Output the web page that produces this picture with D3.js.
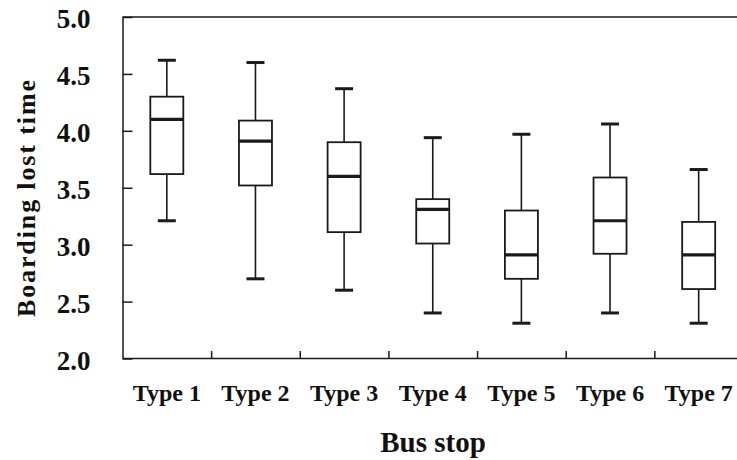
<!DOCTYPE html>
<html>
<head>
<meta charset="utf-8">
<script src="https://cdn.jsdelivr.net/npm/d3@7"></script>
<style>
  body { margin: 0; background: #fff; }
  svg { display: block; }
  svg text { font-family: "Liberation Serif", "Times New Roman", serif; font-weight: bold; }
</style>
</head>
<body>
<div id="chart"></div>
<script>
const types = ["Type 1", "Type 2", "Type 3", "Type 4", "Type 5", "Type 6", "Type 7"];
const whiskerLow = [3.21, 2.70, 2.60, 2.40, 2.31, 2.40, 2.31];
const quartile1 = [3.62, 3.52, 3.11, 3.01, 2.70, 2.92, 2.61];
const medians = [4.10, 3.91, 3.60, 3.31, 2.91, 3.21, 2.91];
const quartile3 = [4.30, 4.09, 3.90, 3.40, 3.30, 3.59, 3.20];
const whiskerHigh = [4.62, 4.60, 4.37, 3.94, 3.97, 4.06, 3.66];
const yTicks = [2.0, 2.5, 3.0, 3.5, 4.0, 4.5, 5.0];

const config = {
    width: 737,
    height: 460,
    margin: { top: 17, right: -6, bottom: 102, left: 122.5 },
    boxWidth: 33,
    capWidth: 18,
    ink: "#1a1a1a",
};

const rows = types.map((t, i) => ({
    type: t,
    lo: whiskerLow[i], q1: quartile1[i], med: medians[i], q3: quartile3[i], hi: whiskerHigh[i],
}));

const svg = d3.select("#chart").append("svg")
    .attr("width", config.width)
    .attr("height", config.height);

const x0 = config.margin.left;
const x1 = config.width - config.margin.right;
const yBottom = config.height - config.margin.bottom;

const x = d3.scaleBand().domain(types).range([x0, x1]).padding(0);
const xIdx = d3.scaleLinear().domain([0, types.length]).range([x0, x1]);
const y = d3.scaleLinear().domain([2, 5]).range([yBottom + 0.5, config.margin.top]);

// top frame line
svg.append("line")
    .attr("x1", x0).attr("x2", x1)
    .attr("y1", y(5)).attr("y2", y(5))
    .attr("stroke", config.ink).attr("stroke-width", 1.5);

// y axis
const yAxis = svg.append("g")
    .attr("transform", `translate(${x0},0)`)
    .call(d3.axisLeft(y).tickValues(yTicks).tickFormat(d3.format(".1f")).tickSizeInner(-10).tickSizeOuter(0).tickPadding(32));
yAxis.attr("font-family", null).attr("font-size", null);
yAxis.select(".domain").attr("stroke", config.ink).attr("stroke-width", 1.5);
yAxis.selectAll(".tick line").attr("stroke", config.ink).attr("stroke-width", 1.5);
yAxis.selectAll(".tick text")
    .attr("fill", "#111")
    .style("font-size", "27px")
    .attr("dy", "0.4em");

// x axis: boundary ticks pointing inward
const xAxis = svg.append("g")
    .attr("transform", `translate(0,${yBottom})`)
    .call(d3.axisBottom(xIdx).tickValues(d3.range(1, types.length)).tickFormat("").tickSizeInner(-7).tickSizeOuter(0));
xAxis.select(".domain").attr("stroke", config.ink).attr("stroke-width", 1.5);
xAxis.selectAll(".tick line").attr("stroke", config.ink).attr("stroke-width", 1.5);

// category labels
const xLabels = svg.append("g")
    .attr("transform", `translate(0,${yBottom})`)
    .call(d3.axisBottom(x).tickSize(0).tickPadding(0));
xLabels.attr("font-family", null).attr("font-size", null);
xLabels.select(".domain").remove();
xLabels.selectAll(".tick text")
    .attr("fill", "#111")
    .attr("dy", 0)
    .attr("y", 42.5)
    .style("font-size", "24px");

// boxes
const boxes = svg.append("g").selectAll("g")
    .data(rows)
    .join("g")
    .attr("transform", d => `translate(${x(d.type) + x.bandwidth() / 2},0)`);

boxes.append("line")
    .attr("y1", d => y(d.hi)).attr("y2", d => y(d.q3))
    .attr("stroke", config.ink).attr("stroke-width", 1.6);
boxes.append("line")
    .attr("y1", d => y(d.q1)).attr("y2", d => y(d.lo))
    .attr("stroke", config.ink).attr("stroke-width", 1.6);

boxes.append("line")
    .attr("x1", -config.capWidth / 2).attr("x2", config.capWidth / 2)
    .attr("y1", d => y(d.hi)).attr("y2", d => y(d.hi))
    .attr("stroke", config.ink).attr("stroke-width", 3);
boxes.append("line")
    .attr("x1", -config.capWidth / 2).attr("x2", config.capWidth / 2)
    .attr("y1", d => y(d.lo)).attr("y2", d => y(d.lo))
    .attr("stroke", config.ink).attr("stroke-width", 3);

boxes.append("rect")
    .attr("x", -config.boxWidth / 2)
    .attr("width", config.boxWidth)
    .attr("y", d => y(d.q3))
    .attr("height", d => y(d.q1) - y(d.q3))
    .attr("fill", "#fff")
    .attr("stroke", config.ink).attr("stroke-width", 1.8);

boxes.append("line")
    .attr("x1", -config.boxWidth / 2).attr("x2", config.boxWidth / 2)
    .attr("y1", d => y(d.med)).attr("y2", d => y(d.med))
    .attr("stroke", config.ink).attr("stroke-width", 3.2);

// axis titles
svg.append("text")
    .attr("x", 433)
    .attr("y", 451.5)
    .attr("text-anchor", "middle")
    .attr("fill", "#111")
    .style("font-size", "29px")
    .text("Bus stop");

svg.append("text")
    .attr("transform", "translate(35,198.5) rotate(-90)")
    .attr("text-anchor", "middle")
    .attr("fill", "#111")
    .style("font-size", "26px")
    .attr("textLength", 237)
    .attr("lengthAdjust", "spacing")
    .text("Boarding lost time");
</script>
</body>
</html>
